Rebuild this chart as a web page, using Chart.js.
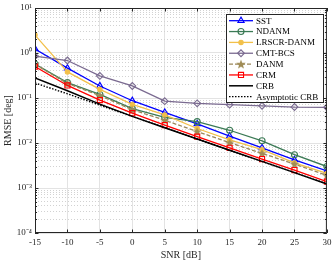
<!DOCTYPE html>
<html>
<head>
<meta charset="utf-8">
<script src="https://cdn.jsdelivr.net/npm/chart.js@4.4.1/dist/chart.umd.min.js"></script>
<style>
  html, body { margin: 0; padding: 0; background: #fff; }
</style>
</head>
<body>
<canvas id="rmseChart" width="332" height="264"></canvas>
<script>
// === data ===
const snr = [-15, -10, -5, 0, 5, 10, 15, 20, 25, 30];
const sst = [1.23, 0.46, 0.185, 0.087, 0.048, 0.0265, 0.0142, 0.0078, 0.0042, 0.0024];
const ndanm = [0.57, 0.22, 0.12, 0.058, 0.037, 0.0298, 0.0192, 0.0112, 0.0055, 0.0030];
const lrscr = [2.5, 0.38, 0.155, 0.072, 0.042, 0.021, 0.0118, 0.0071, 0.0036, 0.0021];
const cmtbcs = [0.85, 0.68, 0.31, 0.185, 0.085, 0.076, 0.071, 0.067, 0.063, 0.062];
const danm = [0.56, 0.21, 0.113, 0.055, 0.032, 0.018, 0.0102, 0.0059, 0.0034, 0.0019];
const crm = [0.5, 0.19, 0.09, 0.046, 0.025, 0.0138, 0.0078, 0.0044, 0.0025, 0.00138];
const crb = [0.28, 0.145, 0.073, 0.039, 0.0219, 0.0123, 0.0069, 0.0039, 0.0022, 0.00123];
const asymCrb = [0.215, 0.124, 0.069, 0.039, 0.0219, 0.0123, 0.0069, 0.0039, 0.0022, 0.00123];

// tick labels
const xTicks = [-15, -10, -5, 0, 5, 10, 15, 20, 25, 30];
const yMajor = [1e-4, 1e-3, 1e-2, 1e-1, 1, 10];
const yMajorLabels = ["10\u207B\u2074", "10\u207B\u00B3", "10\u207B\u00B2", "10\u207B\u00B9", "10\u2070", "10\u00B9"];

const FONT = "'Liberation Serif', 'Times New Roman', serif";

// all log ticks (1..9 x 10^k) so minor grid lines show
const yAllTicks = [];
yMajor.forEach((m, i) => {
  if (i === yMajor.length - 1) { yAllTicks.push(m); return; }
  for (let k = 1; k < 10; k++) yAllTicks.push(m * k);
});

function isMajor(v) {
  return yMajor.some((m) => Math.abs(m - v) / m < 1e-6);
}

// filled star marker for DANM
function makeStar(color) {
  const c = document.createElement("canvas");
  c.width = 10; c.height = 10;
  const g = c.getContext("2d");
  g.fillStyle = color;
  g.beginPath();
  for (let i = 0; i < 10; i++) {
    const r = i % 2 === 0 ? 5 : 2.1;
    const a = -Math.PI / 2 + i * Math.PI / 5;
    g.lineTo(5 + r * Math.cos(a), 5.4 + r * Math.sin(a));
  }
  g.closePath();
  g.fill();
  return c;
}
const starMarker = makeStar("#a08c55");

function series(label, values, color, opts) {
  return Object.assign({
    label: label,
    data: values.map((v, i) => ({ x: snr[i], y: v })),
    borderColor: color,
    pointBorderColor: color,
    backgroundColor: "rgba(0,0,0,0)",
    borderWidth: 1.3,
    pointBorderWidth: 1.1,
    pointRadius: 3,
    pointStyle: "circle",
    tension: 0,
  }, opts || {});
}

const datasets = [
  series("SST", sst, "#0000ff", { pointStyle: "triangle", pointRadius: 3.6 }),
  series("NDANM", ndanm, "#3b7a55", {}),
  series("LRSCR-DANM", lrscr, "#f2c04a", { pointBackgroundColor: "#f2c04a", pointRadius: 2.2 }),
  series("CMT-BCS", cmtbcs, "#7a6a90", { pointStyle: "rectRot", pointRadius: 3.4 }),
  series("DANM", danm, "#9a875a", { borderDash: [4, 2], pointStyle: starMarker }),
  series("CRM", crm, "#ff0000", { pointStyle: "rect", pointRadius: 3.6 }),
  series("CRB", crb, "#000000", { pointRadius: 0, borderWidth: 1.5 }),
  series("Asymptotic CRB", asymCrb, "#000000", { pointRadius: 0, borderWidth: 1.4, borderDash: [1.5, 1.5] }),
];
// last series on top, like MATLAB
datasets.forEach((d, i) => { d.order = datasets.length - i; });

// === frame, inner ticks and legend box ===
const framePlugin = {
  id: "frame",
  afterDatasetsDraw(chart) {
    const { ctx, chartArea: a, scales } = chart;
    ctx.save();
    ctx.strokeStyle = "#262626";
    ctx.lineWidth = 1;
    ctx.strokeRect(a.left + 0.5, a.top + 0.5, a.right - a.left - 1, a.bottom - a.top - 1);

    // inner ticks
    ctx.beginPath();
    scales.y.ticks.forEach((t) => {
      const y = Math.round(scales.y.getPixelForValue(t.value)) + 0.5;
      const len = isMajor(t.value) ? 3.5 : 2;
      ctx.moveTo(a.left, y); ctx.lineTo(a.left + len, y);
      ctx.moveTo(a.right, y); ctx.lineTo(a.right - len, y);
    });
    xTicks.forEach((v) => {
      const x = Math.round(scales.x.getPixelForValue(v)) + 0.5;
      ctx.moveTo(x, a.bottom); ctx.lineTo(x, a.bottom - 3.5);
      ctx.moveTo(x, a.top); ctx.lineTo(x, a.top + 3.5);
    });
    ctx.stroke();

    // legend
    const bx = 226.5, by = 14.5, bw = 97, bh = 88, rowH = 10.85;
    ctx.fillStyle = "#ffffff";
    ctx.fillRect(bx, by, bw, bh);
    ctx.strokeStyle = "#262626";
    ctx.strokeRect(bx, by, bw, bh);
    ctx.font = "9px " + FONT;
    ctx.textBaseline = "middle";
    chart.data.datasets.forEach((d, i) => {
      const y = 20.7 + i * rowH;
      ctx.save();
      ctx.strokeStyle = d.borderColor;
      ctx.lineWidth = d.borderWidth;
      ctx.setLineDash(d.borderDash || []);
      ctx.beginPath();
      ctx.moveTo(229, y); ctx.lineTo(253, y);
      ctx.stroke();
      ctx.setLineDash([]);
      if (d.pointRadius > 0) {
        ctx.fillStyle = d.pointBackgroundColor || d.backgroundColor;
        ctx.lineWidth = d.pointBorderWidth;
        Chart.helpers.drawPoint(ctx, {
          pointStyle: d.pointStyle, radius: d.pointRadius,
          borderWidth: d.pointBorderWidth, rotation: 0,
        }, 241, y);
      }
      ctx.restore();
      ctx.fillStyle = "#000000";
      ctx.fillText(d.label, 256, y + 0.5);
    });
    ctx.restore();
  },
};

new Chart(document.getElementById("rmseChart").getContext("2d"), {
  type: "line",
  data: { datasets: datasets },
  plugins: [framePlugin],
  options: {
    responsive: false,
    animation: false,
    devicePixelRatio: 1,
    layout: { padding: { top: 8, right: 5, left: 0, bottom: 0 } },
    plugins: { legend: { display: false }, tooltip: { enabled: false } },
    scales: {
      x: {
        type: "linear",
        min: -15,
        max: 30,
        afterBuildTicks: (s) => { s.ticks = xTicks.map((v) => ({ value: v })); },
        afterFit: (s) => { s.height = 31; s.paddingLeft = 0; s.paddingRight = 0; },
        ticks: { font: { family: FONT, size: 9 }, color: "#262626", padding: 4, maxRotation: 0 },
        grid: { color: "#e3e3e3", drawTicks: false },
        border: { display: false },
        title: { display: true, text: "SNR [dB]", font: { family: FONT, size: 10 }, color: "#262626", padding: { top: 0, bottom: 3 } },
      },
      y: {
        type: "logarithmic",
        min: 1e-4,
        max: 10,
        afterBuildTicks: (s) => { s.ticks = yAllTicks.map((v) => ({ value: v })); },
        afterFit: (s) => { s.width = 35; s.paddingTop = 0; s.paddingBottom = 0; },
        ticks: {
          autoSkip: false,
          font: { family: FONT, size: 9 },
          color: "#262626",
          padding: 3,
          callback: (v) => {
            const k = yMajor.findIndex((m) => Math.abs(m - v) / m < 1e-6);
            return k >= 0 ? yMajorLabels[k] : "";
          },
        },
        grid: {
          drawTicks: false,
          color: (c) => (c.tick && isMajor(c.tick.value) ? "#e3e3e3" : "#d2d2d2"),
        },
        border: {
          display: false,
          dash: (c) => (c.tick && !isMajor(c.tick.value) ? [1, 2] : []),
        },
        title: { display: true, text: "RMSE [deg]", font: { family: FONT, size: 10 }, color: "#262626", padding: { top: 2, bottom: 2 } },
      },
    },
  },
});
</script>
</body>
</html>
